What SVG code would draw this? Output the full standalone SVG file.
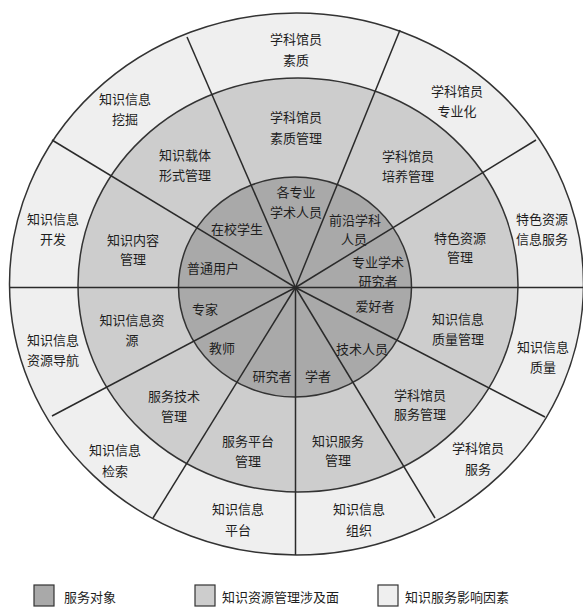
<svg xmlns="http://www.w3.org/2000/svg" width="583" height="607" viewBox="0 0 583 607">
<style>
.ring{stroke:#333;stroke-width:1.5}
.r1{fill:#a9a9a9}
.r2{fill:#cdcdcd}
.r3{fill:#efefef}
.conn line{stroke:#2a2a2a;stroke-width:1.5}
text{font-family:"Noto Sans CJK SC","Noto Sans",sans-serif;font-size:13px;fill:#1e1e1e;text-anchor:middle;dominant-baseline:central}
.lg{stroke:#333;stroke-width:1.2}
.lgt{text-anchor:start}
</style>
<rect x="0" y="0" width="583" height="607" fill="#ffffff"/>
<g id="rings">
<ellipse class="ring r3" cx="296.5" cy="284" rx="287" ry="271"/>
<ellipse class="ring r2" cx="298" cy="285" rx="220" ry="207"/>
<ellipse class="ring r1" cx="295" cy="287" rx="116.5" ry="110"/>
</g>
<g id="connectors" class="conn">
<line x1="295.5" y1="287.5" x2="187" y2="37"/>
<line x1="295.5" y1="287.5" x2="52" y2="140"/>
<line x1="295.5" y1="287.5" x2="10" y2="287.5"/>
<line x1="295.5" y1="287.5" x2="52" y2="416"/>
<line x1="295.5" y1="287.5" x2="153" y2="518"/>
<line x1="295.5" y1="287.5" x2="295.5" y2="555"/>
<line x1="295.5" y1="287.5" x2="435" y2="518"/>
<line x1="295.5" y1="287.5" x2="545" y2="417"/>
<line x1="295.5" y1="287.5" x2="583" y2="287.5"/>
<line x1="295.5" y1="287.5" x2="536" y2="140"/>
<line x1="295.5" y1="287.5" x2="400" y2="30"/>
</g>
<!-- outer ring -->
<g id="o1"><text x="296" y="38">学科馆员</text><text x="296" y="59">素质</text></g>
<g id="o2"><text x="457" y="90">学科馆员</text><text x="457" y="110">专业化</text></g>
<g id="o3"><text x="542" y="218">特色资源</text><text x="542" y="238">信息服务</text></g>
<g id="o4"><text x="543" y="346">知识信息</text><text x="543" y="366">质量</text></g>
<g id="o5"><text x="478" y="447">学科馆员</text><text x="478" y="468">服务</text></g>
<g id="o6"><text x="359" y="508">知识信息</text><text x="359" y="529">组织</text></g>
<g id="o7"><text x="238" y="508">知识信息</text><text x="238" y="529">平台</text></g>
<g id="o8"><text x="115" y="449">知识信息</text><text x="115" y="470">检索</text></g>
<g id="o9"><text x="53" y="339">知识信息</text><text x="53" y="359">资源导航</text></g>
<g id="o10"><text x="53" y="218">知识信息</text><text x="53" y="238">开发</text></g>
<g id="o11"><text x="125" y="98">知识信息</text><text x="125" y="118">挖掘</text></g>
<!-- middle ring -->
<g id="m1"><text x="296" y="116">学科馆员</text><text x="296" y="137">素质管理</text></g>
<g id="m2"><text x="408" y="155">学科馆员</text><text x="408" y="175">培养管理</text></g>
<g id="m3"><text x="460" y="237">特色资源</text><text x="460" y="256">管理</text></g>
<g id="m4"><text x="458" y="318">知识信息</text><text x="458" y="338">质量管理</text></g>
<g id="m5"><text x="420" y="394">学科馆员</text><text x="420" y="413">服务管理</text></g>
<g id="m6"><text x="338" y="440">知识服务</text><text x="338" y="459">管理</text></g>
<g id="m7"><text x="248" y="440">服务平台</text><text x="248" y="460">管理</text></g>
<g id="m8"><text x="174" y="395">服务技术</text><text x="174" y="415">管理</text></g>
<g id="m9"><text x="132" y="319">知识信息资</text><text x="132" y="339">源</text></g>
<g id="m10"><text x="133" y="239">知识内容</text><text x="133" y="258">管理</text></g>
<g id="m11"><text x="185" y="154">知识载体</text><text x="185" y="174">形式管理</text></g>
<!-- inner ring -->
<g id="i1"><text x="296" y="191">各专业</text><text x="296" y="211">学术人员</text></g>
<g id="i2"><text x="355" y="219">前沿学科</text><text x="354" y="238">人员</text></g>
<g id="i3"><text x="378" y="261">专业学术</text><text x="378" y="280">研究者</text></g>
<g id="i4"><text x="375" y="305">爱好者</text></g>
<g id="i5"><text x="362" y="348">技术人员</text></g>
<g id="i6"><text x="318" y="375">学者</text></g>
<g id="i7"><text x="272" y="375">研究者</text></g>
<g id="i8"><text x="222" y="347">教师</text></g>
<g id="i9"><text x="205" y="308">专家</text></g>
<g id="i10"><text x="213" y="267">普通用户</text></g>
<g id="i11"><text x="237" y="228">在校学生</text></g>
<!-- legend -->
<g id="legend1"><rect class="lg r1" x="34" y="585" width="20" height="21"/><text class="lgt" x="64" y="596">服务对象</text></g>
<g id="legend2"><rect class="lg r2" x="195" y="585" width="20" height="21"/><text class="lgt" x="222" y="596">知识资源管理涉及面</text></g>
<g id="legend3"><rect class="lg r3" x="378" y="585" width="20" height="21"/><text class="lgt" x="405" y="596">知识服务影响因素</text></g>
</svg>
